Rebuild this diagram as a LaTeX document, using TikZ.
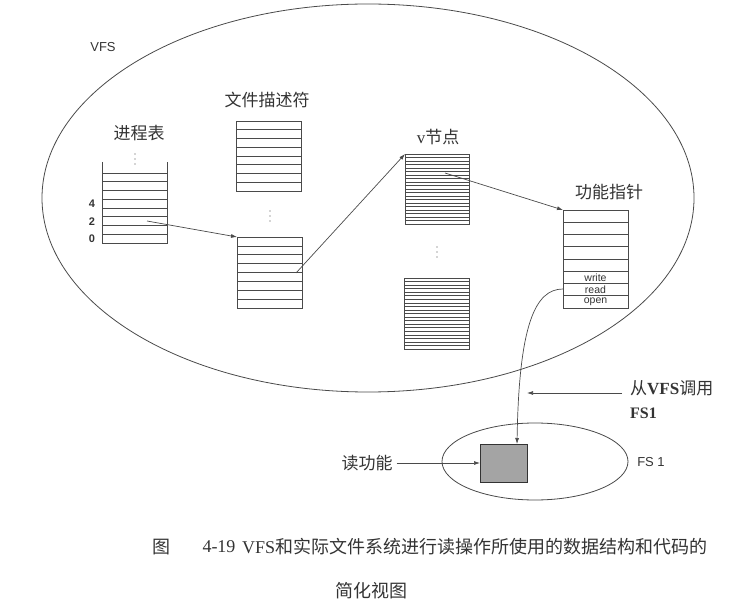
\documentclass[tikz,border=0pt]{standalone}
\usepackage{fontspec}
\setmainfont{Liberation Serif}
\newfontfamily\cjk{Noto Sans CJK SC}
\newfontfamily\sansf{Liberation Sans}
\usetikzlibrary{arrows.meta,calc,shapes.geometric}
\definecolor{linec}{HTML}{4A4A4A}
\definecolor{txtc}{HTML}{333333}
\definecolor{boxfill}{HTML}{A4A4A4}
\tikzset{
  tbl/.style={draw=linec, line width=0.8pt, inner sep=0pt, outer sep=0pt, anchor=north west},
  rowline/.style={draw=linec, line width=0.6pt},
  arr/.style={draw=linec, line width=0.7pt, -{Latex[length=6pt,width=4pt]}},
  cjklabel/.style={text=txtc, font=\cjk\fontsize{17}{19}\selectfont, inner sep=0pt},
  caplabel/.style={text=txtc, font=\cjk\fontsize{18}{20}\selectfont, inner sep=0pt},
  sanslabel/.style={text=txtc, font=\sansf\fontsize{13}{15}\selectfont, inner sep=0pt},
  slotlabel/.style={text=txtc, font=\sansf\fontsize{10.5}{12}\selectfont, inner sep=0pt},
  digitlabel/.style={text=txtc, font=\sansf\bfseries\fontsize{11}{12}\selectfont, inner sep=0pt},
  dotmark/.style={fill=linec},
  oval/.style={draw=linec, line width=0.8pt}
}
\newcommand{\rows}[4]{% name, width, height, slots
  \foreach \i in {1,...,\numexpr#4-1\relax}
    \draw[rowline] ($(#1.north west)+(0,{\i*#3/#4})$) -- ++(#2,0);
}
\begin{document}
\begin{tikzpicture}[x=1pt,y=-1pt]
\useasboundingbox (0,0) rectangle (750,604);
% ellipses
\node[oval, ellipse, minimum width=652pt, minimum height=388pt, inner sep=0pt] (vfs) at (368,198) {};
\node[oval, ellipse, minimum width=186pt, minimum height=77pt, inner sep=0pt] (fs1) at (535,461.5) {};
% labels
\node[sanslabel] (vfslab) at (103,47) {VFS};
\node[cjklabel] (proclab) at (139,133) {进程表};
\node[cjklabel] (fdlab) at (267,100) {文件描述符};
\node[cjklabel] (vnlab) at (438,137) {{\rmfamily v}节点};
\node[cjklabel] (fplab) at (609,192) {功能指针};
% process table (open top)
\node[inner sep=0pt, outer sep=0pt, anchor=north west, minimum width=65pt, minimum height=70pt] (proc) at (102,173) {};
\draw[draw=linec, line width=0.8pt] (102,162) -- (proc.south west) -- (proc.south east) -- (167,162);
\foreach \i in {0,...,7}
  \draw[rowline] ($(proc.north west)+(0,{\i*70/8})$) -- ++(65,0);
\node[digitlabel] (n4) at (92,204) {4};
\node[digitlabel] (n2) at (92,221.5) {2};
\node[digitlabel] (n0) at (92,239) {0};
\foreach \yy in {154,159,164} \fill[dotmark] (135,\yy) circle (0.7pt);
% file descriptor tables
\node[tbl, minimum width=65pt, minimum height=70pt] (fd1) at (236,121) {};
\rows{fd1}{65}{70}{8}
\node[tbl, minimum width=65pt, minimum height=71pt] (fd2) at (237,237) {};
\rows{fd2}{65}{71}{8}
\foreach \yy in {211,216,221} \fill[dotmark] (270,\yy) circle (0.7pt);
% v-node tables
\node[tbl, minimum width=64pt, minimum height=70pt] (vn1) at (405,154) {};
\rows{vn1}{64}{70}{20}
\node[tbl, minimum width=65pt, minimum height=71pt] (vn2) at (404,278) {};
\rows{vn2}{65}{71}{20}
\foreach \yy in {247,252,257} \fill[dotmark] (437,\yy) circle (0.7pt);
% function pointer table
\node[tbl, minimum width=65pt, minimum height=98pt] (fp) at (563,210) {};
\rows{fp}{65}{98}{8}
\node[slotlabel] (wr) at (595.5,277.5) {write};
\node[slotlabel] (rd) at (595.5,289.5) {read};
\node[slotlabel] (op) at (595.5,301.5) {open};
% read function box
\node[draw=black!80, line width=1.2pt, fill=boxfill, anchor=north west, minimum width=47pt, minimum height=38pt, inner sep=0pt] (rbox) at (480,444) {};
% connector start points
\coordinate (p2) at (147,221);
\coordinate (fdp) at (296,273);
\coordinate (vnp) at (445,173);
\coordinate (rdp) at (563,289);
\coordinate (callend) at (527,393);
\coordinate (callstart) at (622,393);
% connectors
\draw[arr] (p2) -- (fd2.north west);
\draw[arr] (fdp) -- (vn1.north west);
\draw[arr] (vnp) -- (fp.north west);
\draw[arr] (rdp) .. controls (535,289) and (519,325) .. (rbox.north -| 517,444);
\draw[arr] (callstart) -- (callend);
% bottom labels
\node[cjklabel, anchor=west] (calllab) at (630,388) {从{\rmfamily\bfseries VFS}调用};
\node[text=txtc, font=\rmfamily\bfseries\fontsize{16}{18}\selectfont, anchor=west, inner sep=0pt] (calllab2) at (630,413) {FS1};
\node[cjklabel] (readlab) at (367,463) {读功能};
\coordinate (rls) at ($(readlab.east)+(4,0)$);
\draw[arr] (rls) -- (rls -| rbox.west);
\node[sanslabel] (fs1lab) at (651,462) {FS 1};
% caption
\node[caplabel] (capfig) at (161,547) {图};
\node[text=txtc, font=\rmfamily\fontsize{18}{20}\selectfont, inner sep=0pt] (capnum) at (219,547) {4-19};
\node[caplabel, anchor=west] (captext) at (242,547) {{\rmfamily VFS}和实际文件系统进行读操作所使用的数据结构和代码的};
\node[caplabel] (captext2) at (371,591) {简化视图};
\end{tikzpicture}
\end{document}
